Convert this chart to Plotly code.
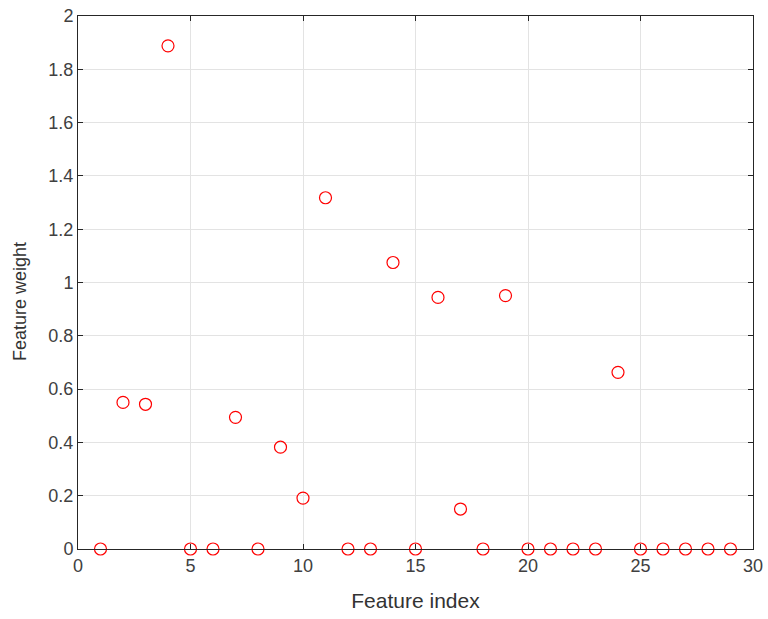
import plotly.graph_objects as go

feature_index = list(range(1, 30))
feature_weight = [0, 0.55, 0.543, 1.888, 0, 0, 0.494, 0, 0.382, 0.191,
                  1.318, 0, 0, 1.075, 0, 0.944, 0.150, 0, 0.951, 0,
                  0, 0, 0, 0.663, 0, 0, 0, 0, 0]

fig = go.Figure()
fig.add_trace(go.Scatter(
    x=feature_index, y=feature_weight, mode="markers",
    marker=dict(symbol="circle-open", size=12, color="#ff0000", line=dict(width=1.2)),
    cliponaxis=False, showlegend=False))

font_family = "Liberation Sans, Arial"
axis_common = dict(
    showline=True, linecolor="#262626", linewidth=1, mirror="ticks",
    ticks="inside", ticklen=5, tickcolor="#262626",
    showgrid=True, gridcolor="#e3e3e3", gridwidth=1, zeroline=False,
    automargin=False,
    tickfont=dict(family=font_family, size=18, color="#404040"),
)
fig.update_xaxes(range=[0, 30], tickvals=[0, 5, 10, 15, 20, 25, 30],
                 title=dict(text="Feature index", font=dict(family=font_family, size=21, color="#333333"), standoff=18),
                 **axis_common)
fig.update_yaxes(range=[0, 2], tickvals=[0, 0.2, 0.4, 0.6, 0.8, 1, 1.2, 1.4, 1.6, 1.8, 2],
                 ticktext=["0", "0.2", "0.4", "0.6", "0.8", "1", "1.2", "1.4", "1.6", "1.8", "2"],
                 **axis_common)
fig.add_annotation(text="Feature weight", xref="paper", yref="paper",
                   x=-0.086, y=0.465, textangle=-90, showarrow=False,
                   xanchor="center", yanchor="middle",
                   font=dict(family=font_family, size=18, color="#333333"))
fig.update_layout(width=768, height=619, margin=dict(l=78, r=15, t=16, b=70),
                  plot_bgcolor="white", paper_bgcolor="white")
fig.write_html("out.html")
